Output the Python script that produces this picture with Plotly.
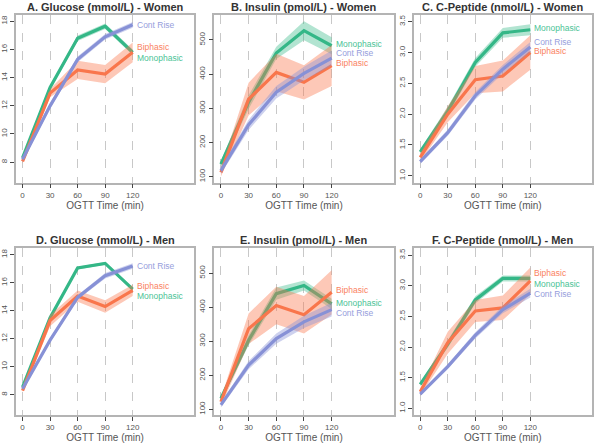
import plotly.graph_objects as go

time = [0, 30, 60, 90, 120]
groups = ["Monophasic", "Biphasic", "Cont Rise"]

titles = ["A. Glucose (mmol/L) - Women", "B. Insulin (pmol/L) - Women", "C. C-Peptide (nmol/L) - Women",
          "D. Glucose (mmol/L) - Men", "E. Insulin (pmol/L) - Men", "F. C-Peptide (nmol/L) - Men"]

# Means and standard errors
glu_w_mono = [8.3, 13.3, 16.8, 17.65, 15.8]
glu_w_mono_se = [0.12, 0.15, 0.2, 0.2, 0.2]
glu_w_bi = [8.05, 12.9, 14.55, 14.25, 15.8]
glu_w_bi_se = [0.15, 0.3, 0.65, 0.65, 0.7]
glu_w_cont = [8.2, 12.0, 15.3, 16.9, 17.75]
glu_w_cont_se = [0.15, 0.2, 0.2, 0.2, 0.2]

ins_w_mono = [137, 318, 462, 527, 483]
ins_w_mono_se = [10, 20, 18, 28, 25]
ins_w_bi = [113, 327, 405, 376, 425]
ins_w_bi_se = [12, 48, 55, 50, 60]
ins_w_cont = [118, 252, 347, 402, 447]
ins_w_cont_se = [10, 15, 18, 20, 22]

cp_w_mono = [1.39, 2.05, 2.84, 3.32, 3.37]
cp_w_mono_se = [0.04, 0.07, 0.07, 0.08, 0.09]
cp_w_bi = [1.30, 2.0, 2.56, 2.62, 3.0]
cp_w_bi_se = [0.07, 0.13, 0.22, 0.25, 0.28]
cp_w_cont = [1.23, 1.70, 2.30, 2.73, 3.09]
cp_w_cont_se = [0.04, 0.05, 0.06, 0.07, 0.08]

glu_m_mono = [8.55, 13.5, 17.05, 17.38, 15.55]
glu_m_mono_se = [0.08, 0.1, 0.1, 0.1, 0.1]
glu_m_bi = [8.3, 13.3, 15.05, 14.3, 15.45]
glu_m_bi_se = [0.1, 0.4, 0.4, 0.45, 0.4]
glu_m_cont = [8.43, 11.9, 14.95, 16.5, 17.2]
glu_m_cont_se = [0.1, 0.15, 0.15, 0.2, 0.2]

ins_m_mono = [132, 303, 440, 464, 410]
ins_m_mono_se = [8, 15, 18, 15, 15]
ins_m_bi = [122, 337, 405, 378, 444]
ins_m_bi_se = [12, 45, 55, 55, 65]
ins_m_cont = [113, 230, 308, 357, 393]
ins_m_cont_se = [8, 12, 15, 18, 20]

cp_m_mono = [1.39, 2.05, 2.77, 3.12, 3.12]
cp_m_mono_se = [0.03, 0.06, 0.06, 0.05, 0.05]
cp_m_bi = [1.27, 2.07, 2.59, 2.64, 3.08]
cp_m_bi_se = [0.06, 0.18, 0.18, 0.2, 0.22]
cp_m_cont = [1.23, 1.68, 2.19, 2.61, 2.88]
cp_m_cont_se = [0.03, 0.04, 0.05, 0.06, 0.07]

panels = [
    [(glu_w_mono, glu_w_mono_se), (glu_w_bi, glu_w_bi_se), (glu_w_cont, glu_w_cont_se)],
    [(ins_w_mono, ins_w_mono_se), (ins_w_bi, ins_w_bi_se), (ins_w_cont, ins_w_cont_se)],
    [(cp_w_mono, cp_w_mono_se), (cp_w_bi, cp_w_bi_se), (cp_w_cont, cp_w_cont_se)],
    [(glu_m_mono, glu_m_mono_se), (glu_m_bi, glu_m_bi_se), (glu_m_cont, glu_m_cont_se)],
    [(ins_m_mono, ins_m_mono_se), (ins_m_bi, ins_m_bi_se), (ins_m_cont, ins_m_cont_se)],
    [(cp_m_mono, cp_m_mono_se), (cp_m_bi, cp_m_bi_se), (cp_m_cont, cp_m_cont_se)],
]

# style
line_col = {"Monophasic": "rgb(52,183,135)", "Biphasic": "rgb(249,118,76)", "Cont Rise": "rgb(135,145,214)"}
band_col = {"Monophasic": "rgba(52,183,135,0.38)", "Biphasic": "rgba(249,118,76,0.4)", "Cont Rise": "rgba(135,145,214,0.42)"}
label_col = {"Monophasic": "rgb(75,195,150)", "Biphasic": "rgb(250,130,95)", "Cont Rise": "rgb(150,158,220)"}
label_shift = [
    {"Monophasic": -5.7, "Biphasic": 5.7, "Cont Rise": 0},
    {"Monophasic": 1.5, "Biphasic": 2.5, "Cont Rise": 4.7},
    {"Monophasic": 1.5, "Biphasic": 1.2, "Cont Rise": 5.3},
    {"Monophasic": -6.7, "Biphasic": 4, "Cont Rise": 0},
    {"Monophasic": 0.5, "Biphasic": 2.7, "Cont Rise": -3.8},
    {"Monophasic": -5.3, "Biphasic": 7.5, "Cont Rise": -0.5},
]
yranges = [[6.55, 18.45], [83, 573], [0.89, 3.61], [6.55, 18.45], [83, 573], [0.89, 3.61]]
ytickvals = [[8, 10, 12, 14, 16, 18], [100, 200, 300, 400, 500], [1.0, 1.5, 2.0, 2.5, 3.0, 3.5]] * 2
yticktext = [None, None, ["1.0", "1.5", "2.0", "2.5", "3.0", "3.5"]] * 2

W, H = 594, 445
xdom_px = [(14, 193), (213, 393), (413, 592)]
ydom_px = [(14, 182), (248, 415)]
FONT = "Liberation Sans, Arial, sans-serif"

fig = go.Figure()
layout = dict(width=W, height=H, margin=dict(l=0, r=0, t=0, b=0),
              paper_bgcolor="white", plot_bgcolor="white", showlegend=False,
              font=dict(family=FONT, color="#555"))
annotations = []

for i in range(6):
    r, c = divmod(i, 3)
    n = "" if i == 0 else str(i + 1)
    xa, ya = "x" + n, "y" + n
    x0, x1 = xdom_px[c]
    y0, y1 = ydom_px[r]
    layout["xaxis" + n] = dict(
        domain=[x0 / W, x1 / W], anchor=ya, range=[-7.2, 187.2],
        tickvals=time, showgrid=True, gridcolor="#c8c8c8", griddash="dash", gridwidth=1,
        zeroline=False, showline=True, linecolor="#b4b4b4", linewidth=1.5, mirror=True,
        ticks="outside", ticklen=4, tickcolor="#444", tickfont=dict(size=8, color="#555"),
        title=dict(text="OGTT Time (min)", font=dict(size=10, color="#555"), standoff=3))
    layout["yaxis" + n] = dict(
        domain=[1 - y1 / H, 1 - y0 / H], anchor=xa, range=yranges[i],
        tickvals=ytickvals[i], ticktext=yticktext[i], showgrid=False, zeroline=False,
        showline=True, linecolor="#b4b4b4", linewidth=1.5, mirror=True,
        ticks="outside", ticklen=4, tickcolor="#444", tickangle=-90,
        tickfont=dict(size=8, color="#555"))
    annotations.append(dict(text="<b>" + titles[i] + "</b>", xref="paper", yref="paper",
                            x=(x0 + x1) / 2 / W, y=1 - (y0 - 8) / H, xanchor="center", yanchor="middle",
                            showarrow=False, font=dict(size=11, color="#333", family=FONT)))
    for g, (mean, se) in zip(groups, panels[i]):
        upper = [m + s for m, s in zip(mean, se)]
        lower = [m - s for m, s in zip(mean, se)]
        fig.add_trace(go.Scatter(x=time + time[::-1], y=upper + lower[::-1], fill="toself",
                                 fillcolor=band_col[g], line=dict(width=0), mode="lines",
                                 hoverinfo="skip", xaxis=xa, yaxis=ya))
        fig.add_trace(go.Scatter(x=time, y=mean, mode="lines", line=dict(color=line_col[g], width=3.2),
                                 name=g, xaxis=xa, yaxis=ya))
        annotations.append(dict(text=g, x=time[-1], y=mean[-1], xref=xa, yref=ya,
                                xanchor="left", yanchor="middle", xshift=2,
                                yshift=label_shift[i][g], showarrow=False,
                                font=dict(size=8.5, color=label_col[g], family=FONT)))

layout["annotations"] = annotations
fig.update_layout(**layout)
fig.write_html("out.html", config={"displayModeBar": False},
               post_script="document.body.style.margin='0';document.body.style.overflow='hidden';")
